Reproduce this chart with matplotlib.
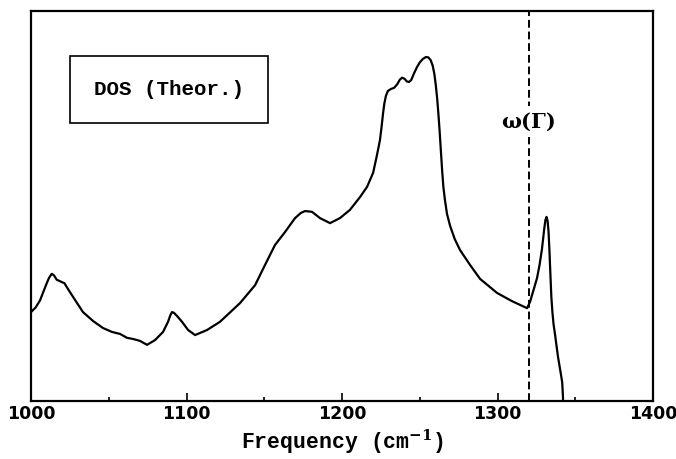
import matplotlib
matplotlib.use("Agg")
import matplotlib.pyplot as plt
import numpy as np

# DOS curve (frequency in cm^-1, arbitrary DOS units)
freq = [1000.0, 1003.0, 1005.8, 1009.6, 1011.5, 1013.3, 1014.8, 1016.5, 1019.7,
        1021.5, 1023.0, 1028.3, 1033.4, 1039.9, 1046.3, 1052.1, 1057.2, 1061.7,
        1065.6, 1070.1, 1074.6, 1079.7, 1084.9, 1088.1, 1089.6, 1090.7, 1091.9,
        1093.9, 1097.1, 1101.0, 1105.5, 1113.2, 1121.5, 1134.4, 1144.1, 1150.5,
        1156.9, 1163.3, 1169.8, 1173.5, 1176.2, 1180.7, 1185.8, 1192.3, 1198.7,
        1205.1, 1211.6, 1216.1, 1220.0, 1222.5, 1224.4, 1225.5, 1226.4, 1227.2,
        1228.2, 1229.5, 1231.5, 1233.5, 1235.5, 1237.2, 1238.6, 1240.2, 1241.8,
        1243.1, 1244.5, 1246.3, 1248.2, 1250.0, 1252.0, 1254.0, 1255.5, 1257.0,
        1258.3, 1259.4, 1260.3, 1261.2, 1262.0, 1262.8, 1263.6, 1264.4, 1265.2,
        1266.2, 1267.5, 1269.5, 1272.5, 1275.9, 1282.3, 1288.8, 1299.7, 1309.3,
        1319.0, 1320.9, 1323.2, 1325.4, 1327.0, 1328.6, 1330.0, 1330.8, 1331.5,
        1332.2, 1332.8, 1333.4, 1334.0, 1334.6, 1335.3, 1336.0, 1337.0, 1338.9,
        1340.5, 1341.6, 1342.1, 1342.3]
dos = [0.228, 0.240, 0.258, 0.297, 0.315, 0.326, 0.322, 0.311, 0.305,
       0.302, 0.292, 0.259, 0.228, 0.205, 0.187, 0.177, 0.172, 0.162,
       0.159, 0.154, 0.144, 0.156, 0.177, 0.203, 0.220, 0.228, 0.226,
       0.218, 0.203, 0.182, 0.169, 0.182, 0.203, 0.251, 0.297, 0.349,
       0.400, 0.433, 0.469, 0.482, 0.487, 0.485, 0.469, 0.456, 0.469,
       0.490, 0.523, 0.549, 0.585, 0.631, 0.669, 0.705, 0.738, 0.762,
       0.782, 0.795, 0.800, 0.803, 0.812, 0.824, 0.829, 0.826, 0.819,
       0.818, 0.823, 0.840, 0.856, 0.868, 0.877, 0.882, 0.881, 0.874,
       0.860, 0.838, 0.810, 0.775, 0.735, 0.690, 0.640, 0.590, 0.548,
       0.515, 0.480, 0.449, 0.415, 0.387, 0.349, 0.313, 0.277, 0.256,
       0.238, 0.254, 0.285, 0.315, 0.348, 0.390, 0.440, 0.464, 0.472,
       0.462, 0.435, 0.385, 0.325, 0.268, 0.228, 0.198, 0.170, 0.113,
       0.075, 0.048, 0.010, -0.05]
omega_gamma = 1320.0
xticks = [1000, 1100, 1200, 1300, 1400]

plt.rcParams["mathtext.fontset"] = "dejavuserif"

fig = plt.figure(figsize=(6.76, 4.59), dpi=100)
ax = fig.add_axes([0.0459, 0.1264, 0.9201, 0.8497])

ax.plot(freq, dos, color="black", lw=1.6, solid_joinstyle="round",
        solid_capstyle="round")
ax.axvline(omega_gamma, color="black", lw=1.4, ls=(0, (4, 2)))
ax.text(omega_gamma, 0.716, r"$\mathbf{\omega(\Gamma)}$", ha="center",
        va="center", fontsize=15,
        bbox=dict(facecolor="white", edgecolor="none", pad=3))
ax.text(0.222, 0.798, "DOS (Theor.)", transform=ax.transAxes, ha="center",
        va="center", family="Liberation Mono", weight="bold", fontsize=15,
        bbox=dict(facecolor="white", edgecolor="black", lw=1.2,
                  boxstyle="square,pad=1.15"))

ax.set_xlim(1000, 1400)
ax.set_ylim(0, 1)
ax.set_xticks(xticks)
ax.set_xticks(np.arange(1050, 1400, 100), minor=True)
ax.set_yticks([])
ax.tick_params(axis="x", which="major", direction="in", length=6, width=1.2,
               pad=3, labelsize=12.5, top=False)
ax.tick_params(axis="x", which="minor", direction="in", length=3, width=1.2,
               top=False)
for lab in ax.get_xticklabels():
    lab.set_fontweight("bold")
for sp in ax.spines.values():
    sp.set_linewidth(1.6)

ax.set_xlabel(r"Frequency (cm$^{\mathbf{-1}}$)", family="Liberation Mono",
              weight="bold", fontsize=15.5, labelpad=3)

fig.savefig("out.png", dpi=100)
